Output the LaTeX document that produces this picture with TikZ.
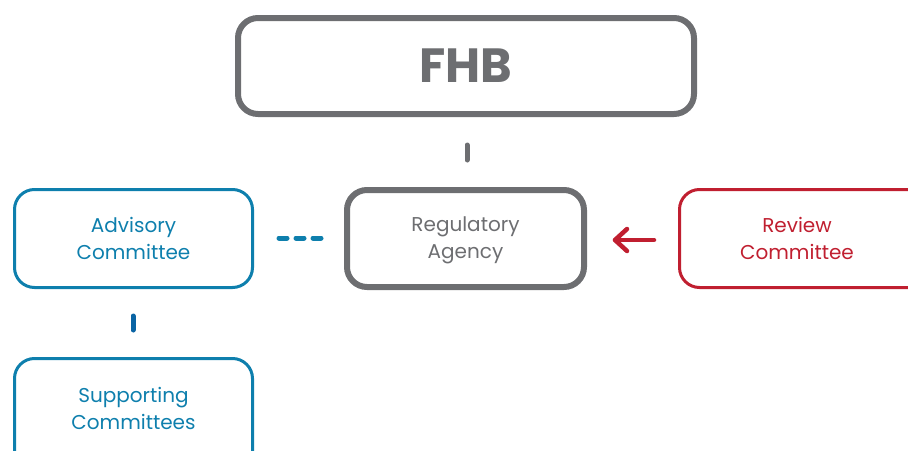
\documentclass[tikz,border=0pt]{standalone}
\usepackage{fontspec}
\setmainfont{Poppins}
\usetikzlibrary{arrows.meta}
\definecolor{cgray}{HTML}{6D6E71}
\definecolor{cblue}{HTML}{0E7FAD}
\definecolor{cdblue}{HTML}{0A64A4}
\definecolor{cred}{HTML}{C01F30}
\tikzset{
  box/.style={rounded corners=20pt},
  lbl/.style={font=\fontsize{20}{27}\selectfont, align=center},
}
\begin{document}
\begin{tikzpicture}[x=1pt,y=-1pt]
\useasboundingbox (0,0) rectangle (908,450);
% boxes
\draw[cgray, line width=6pt, box] (238,18) rectangle (694,114);
\node[cgray, font=\fontsize{48}{50}\selectfont\bfseries] (fhb) at (466,66) {FHB};
\draw[cgray, line width=6pt, box] (347,190) rectangle (584,287);
\node[cgray, lbl] (reg) at (465.5,240.5) {Regulatory\\Agency};
\draw[cblue, line width=3pt, box] (14.5,189.5) rectangle (252.5,287.5);
\node[cblue, lbl] (adv) at (133.5,238) {Advisory\\Committee};
\draw[cred, line width=3pt, box] (679.5,189.5) rectangle (940,287.5);
\node[cred, lbl] (rev) at (797,238) {Review\\Committee};
\draw[cblue, line width=3pt, box] (14.5,358.5) rectangle (252.5,480);
\node[cblue, lbl] (sup) at (133.5,408.5) {Supporting\\Committees};
% connectors
\coordinate (g1) at (467,145); \coordinate (g2) at (467,160);
\draw[cgray, line width=5pt, line cap=round] (g1) -- (g2);
\coordinate (d1) at (279,238); \coordinate (d2) at (321,238);
\draw[cblue, line width=5pt, line cap=round, dash pattern=on 8pt off 9pt] (d1) -- (d2);
\coordinate (b1) at (133,316); \coordinate (b2) at (133,330);
\draw[cdblue, line width=5pt, line cap=round] (b1) -- (b2);
\coordinate (r1) at (654,240); \coordinate (r2) at (615,240);
\draw[cred, line width=4.5pt, line cap=round] (r1) -- (r2);
\draw[cred, line width=4.5pt, line cap=round, line join=round] (627,229) -- (615,240) -- (627,251);
\end{tikzpicture}
\end{document}
